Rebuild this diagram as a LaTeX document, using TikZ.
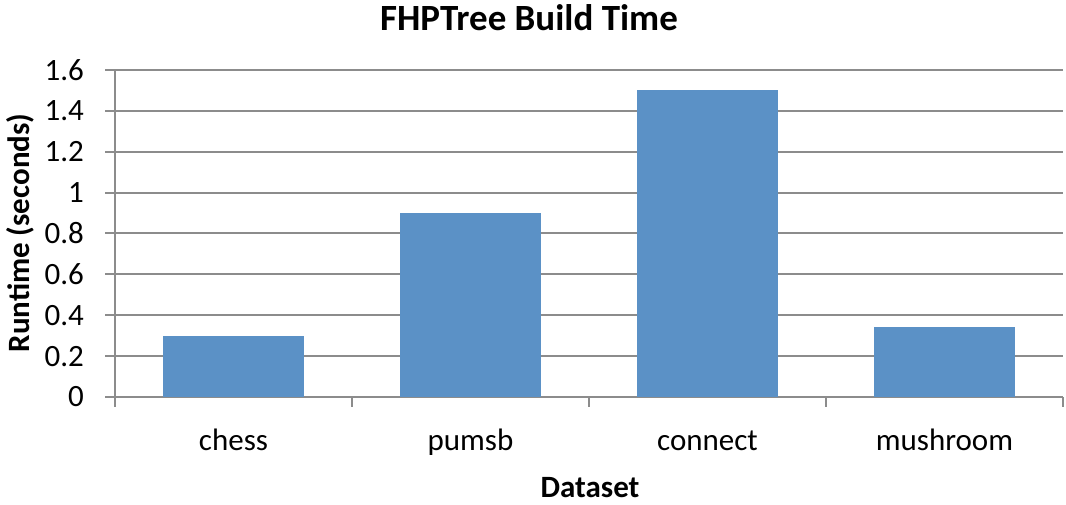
\documentclass[tikz,border=0pt]{standalone}
\usepackage{fontspec}
\setmainfont{Carlito}
\usepackage{xcolor}
\usepackage{tikz}

\definecolor{barblue}{RGB}{91,145,198}
\definecolor{gridgray}{RGB}{140,140,140}

\begin{document}
\begin{tikzpicture}[x=1pt,y=-1pt,
	ticklabel/.style={inner sep=0pt,font=\fontsize{31}{36}\selectfont},
	axistitle/.style={inner sep=0pt,font=\fontsize{31}{36}\selectfont\bfseries}]
	\useasboundingbox (0,0) rectangle (1066,504);

	% grid and y ticks
	\foreach \i/\t in {0/0,1/0.2,2/0.4,3/0.6,4/0.8,5/1,6/1.2,7/1.4,8/1.6}{
		\draw[gridgray,line width=2pt] (105,397-40.9*\i) -- (1063,397-40.9*\i);
		\node[ticklabel,anchor=east] (y\i) at (84,397-40.9*\i) {\t};
	}
	\draw[gridgray,line width=2pt] (115,70) -- (115,407);
	\foreach \x in {352,589,826,1063}
		\draw[gridgray,line width=2pt] (\x,397) -- (\x,407);

	% bars
	\foreach \x/\v/\n in {233.5/0.3/chess,470.5/0.9/pumsb,707.5/1.5/connect,944.5/0.34/mushroom}{
		\fill[barblue] (\x-70.5,397) rectangle (\x+70.5,397-204.5*\v);
		\node[ticklabel,anchor=base] (\n) at (\x,450) {\n};
	}

	\node[axistitle,font=\fontsize{37}{42}\selectfont\bfseries,anchor=base] (title) at (529,30) {FHPTree Build Time};
	\node[axistitle,anchor=base] (xlabel) at (590,497) {Dataset};
	\node[axistitle,anchor=base,rotate=90] (ylabel) at (29,233) {Runtime (seconds)};
\end{tikzpicture}
\end{document}
